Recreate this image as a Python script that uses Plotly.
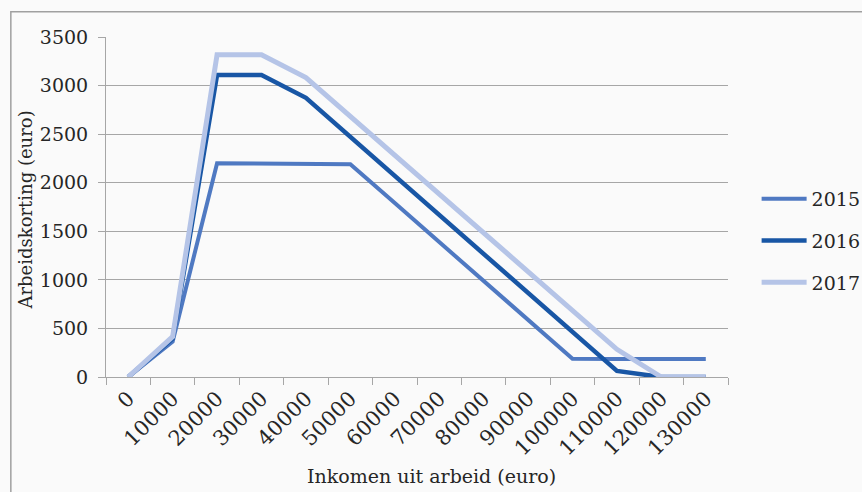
import plotly.graph_objects as go

# Income brackets (euro) shown as categories on the x axis
inkomen = ["0", "10000", "20000", "30000", "40000", "50000", "60000",
           "70000", "80000", "90000", "100000", "110000", "120000", "130000"]

# Arbeidskorting (euro) per year
korting_2015 = [0, 365, 2200, 2200, 2198, 2190, 1790, 1390, 990, 590, 188, 186, 186, 186]
korting_2016 = [0, 395, 3110, 3110, 2874, 2474, 2074, 1674, 1274, 874, 474, 62, 0, 0]
korting_2017 = [0, 415, 3318, 3318, 3082, 2682, 2282, 1882, 1482, 1082, 682, 285, 0, 0]

years = ["2015", "2016", "2017"]
series = [korting_2015, korting_2016, korting_2017]
colors = ["#4F79C2", "#1856A5", "#B5C4E7"]
widths = [4, 4.5, 5]

FONT = "DejaVu Serif"
TXT = "#262626"
GRID = "#A6A6A6"

fig = go.Figure()
for i, (name, vals) in enumerate(zip(years, series)):
    fig.add_trace(go.Scatter(
        x=inkomen, y=vals, name=name, mode="lines",
        line=dict(color=colors[i], width=widths[i]),
        legendgroup=name,
    ))

fig.update_layout(
    width=862, height=492,
    margin=dict(l=106, r=134, t=37, b=115, autoexpand=False),
    paper_bgcolor="#FAFAFA", plot_bgcolor="#FAFAFA",
    font=dict(family=FONT, size=19, color=TXT),
    showlegend=True,
    legend=dict(
        x=1.046, y=0.40, xanchor="left", yanchor="middle",
        traceorder="grouped", tracegroupgap=14,
        font=dict(family=FONT, size=19, color=TXT),
        bgcolor="rgba(0,0,0,0)", itemwidth=45,
    ),
    xaxis=dict(
        type="category", range=[-0.5, 13.5],
        tickson="boundaries", ticks="outside", ticklen=7, tickcolor=GRID,
        tickangle=-45, showgrid=False, zeroline=False,
        showline=True, linecolor=GRID, linewidth=1,
        tickfont=dict(family=FONT, size=21, color=TXT),
    ),
    yaxis=dict(
        range=[0, 3500], dtick=500, tick0=0,
        showgrid=True, gridcolor=GRID, gridwidth=1.3, zeroline=False,
        showline=True, linecolor=GRID, linewidth=1,
        ticks="outside", ticklen=7, tickcolor=GRID, ticklabelstandoff=6,
        tickfont=dict(family=FONT, size=19, color=TXT),
    ),
    annotations=[
        dict(text="Arbeidskorting (euro)", textangle=-90,
             xref="paper", yref="paper", x=-0.13, y=0.49,
             xanchor="center", yanchor="middle", showarrow=False,
             font=dict(family=FONT, size=18, color=TXT)),
        dict(text="Inkomen uit arbeid (euro)",
             xref="paper", yref="paper", x=0.524, y=-0.29,
             xanchor="center", yanchor="middle", showarrow=False,
             font=dict(family=FONT, size=19, color=TXT)),
    ],
    shapes=[
        dict(type="rect", xref="paper", yref="paper",
             x0=-0.153, y0=-0.4, x1=1.3, y1=1.074,
             line=dict(color="#A0A0A0", width=1.5), fillcolor="rgba(0,0,0,0)",
             layer="below"),
    ],
)

fig.write_html("out.html")
